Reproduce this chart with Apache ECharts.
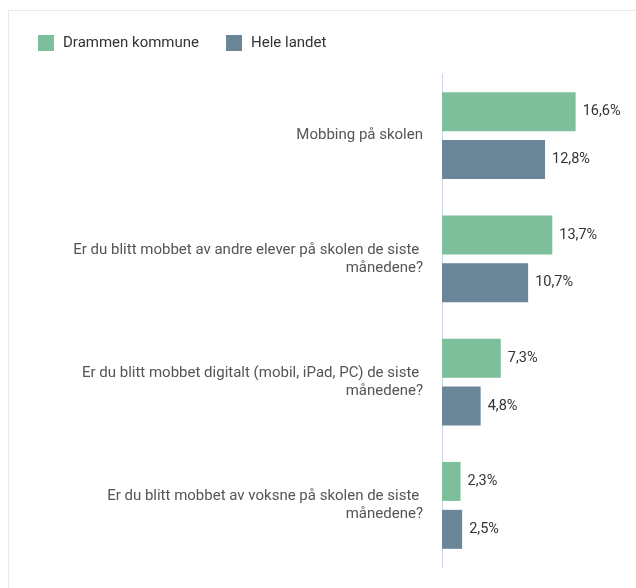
<!DOCTYPE html>
<html>
<head>
<meta charset="utf-8">
<script src="https://cdn.jsdelivr.net/npm/echarts@6/dist/echarts.min.js"></script>
<style>
  html, body { margin: 0; padding: 0; background: #fff; }
  #frame { position: absolute; left: 8px; top: 10px; width: 640px; height: 600px; border: 1px solid #e8e8e8; box-sizing: border-box; }
  #chart { position: absolute; left: 0; top: 0; width: 636px; height: 588px; }
</style>
</head>
<body>
<div id="frame"></div>
<div id="chart"></div>
<script>
// data
const categories = [
  'Mobbing på skolen',
  'Er du blitt mobbet av andre elever på skolen de siste månedene?',
  'Er du blitt mobbet digitalt (mobil, iPad, PC) de siste månedene?',
  'Er du blitt mobbet av voksne på skolen de siste månedene?',
]
const drammen = [16.6, 13.7, 7.3, 2.3]
const heleLandet = [12.8, 10.7, 4.8, 2.5]

const chart = echarts.init(document.getElementById('chart'), null, { renderer: 'canvas' })

const fmt = (p) => p.value.toFixed(1).replace('.', ',') + '%'
const valueLabel = { show: true, position: 'right', distance: 7, fontSize: 14.5, color: '#333', formatter: fmt }

const option = {
  animation: false,
  textStyle: { fontFamily: 'Roboto' },
  legend: {
    left: 38,
    top: 35,
    padding: 0,
    itemWidth: 16,
    itemHeight: 16,
    itemGap: 27,
    icon: 'rect',
    textStyle: { fontSize: 15, color: '#333', padding: [0, 0, 0, 4] },
    data: ['Drammen kommune', 'Hele landet'],
  },
  grid: {
    left: 442,
    top: 74,
    width: 161,
    height: 493,
  },
  xAxis: {
    type: 'value',
    min: 0,
    max: 20,
    show: false,
  },
  yAxis: {
    type: 'category',
    inverse: true,
    data: categories,
    axisLine: { show: true, lineStyle: { color: '#ccd6eb', width: 1 } },
    axisTick: { show: false },
    axisLabel: {
      margin: 19,
      fontSize: 15,
      color: '#555',
      lineHeight: 18,
      width: 360,
      overflow: 'break',
      align: 'right',
    },
  },
  series: [
    {
      name: 'Drammen kommune',
      type: 'bar',
      data: drammen,
      barGap: '23%',
      barCategoryGap: '29.5%',
      itemStyle: { color: '#7cbf9a' },
      label: valueLabel,
    },
    {
      name: 'Hele landet',
      type: 'bar',
      data: heleLandet,
      itemStyle: { color: '#6b8599' },
      label: valueLabel,
    },
  ],
}

chart.setOption(option)
</script>
</body>
</html>
